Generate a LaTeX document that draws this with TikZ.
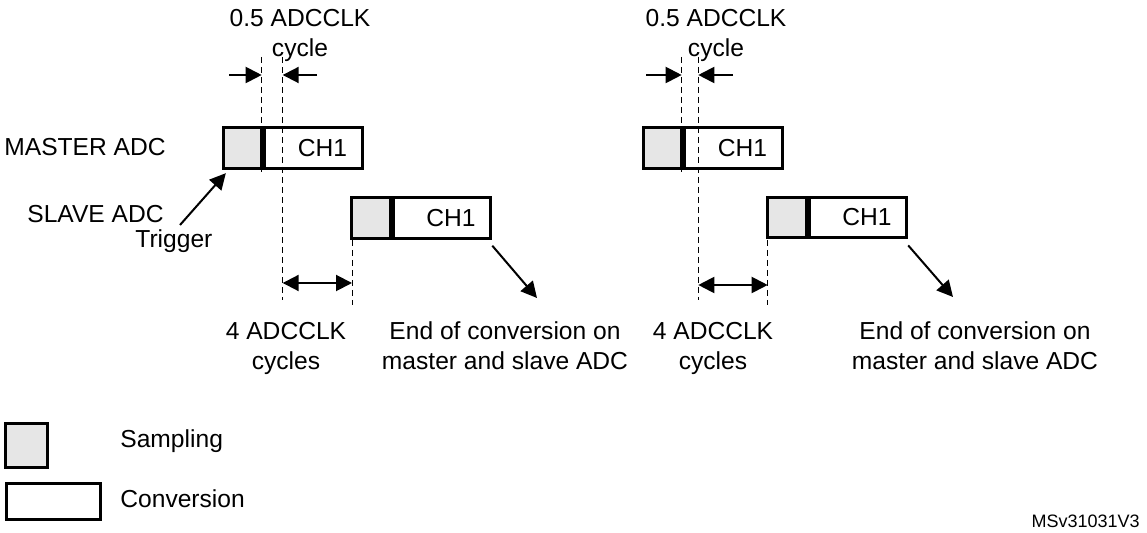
\documentclass[tikz,border=0pt]{standalone}
\usepackage{fontspec}
\setmainfont{Liberation Sans}
\usetikzlibrary{arrows.meta,positioning}
\definecolor{sampgray}{RGB}{230,230,230}

\tikzset{
  sampbox/.style={draw, line width=1.5pt, fill=sampgray, inner sep=0pt, minimum width=19.2pt, minimum height=20.4pt},
  convbox/.style={draw, line width=1.5pt, inner sep=0pt, minimum width=48.8pt, minimum height=20.4pt},
  guide/.style={line width=0.5pt, dash pattern=on 3pt off 2pt},
  sig/.style={line width=1pt, -{Triangle[length=8pt,width=8pt]}},
  span/.style={line width=1pt, {Triangle[length=8pt,width=8pt]}-{Triangle[length=8pt,width=8pt]}},
  txt/.style={font=\fontsize{12.3}{15}\selectfont, inner sep=0pt, align=center},
}

\begin{document}
\begin{tikzpicture}[x=0.5pt,y=-0.5pt]
\useasboundingbox (0,0) rectangle (1147,533);

%labels on the left
\node [txt, anchor=base west] (mlab) at (4,156) {MASTER ADC};
\node [txt, anchor=base west] (slab) at (27,223) {SLAVE ADC};
\node [txt, anchor=base west] (tlab) at (135,248) {Trigger};

%first case: master
\node [sampbox] (ms1) at (242.5,148.3) {};
\node [convbox, right=0pt of ms1, label={[txt,xshift=4.5pt]center:CH1}] (mc1) {};
%first case: slave
\node [sampbox] (ss1) at (371,217.8) {};
\node [convbox, right=0pt of ss1, label={[txt,xshift=4.5pt]center:CH1}] (sc1) {};

%first case: guides
\coordinate (g1t) at (261.7,57);
\coordinate (g1b) at (261.7,172);
\coordinate (g2t) at (282.7,57);
\coordinate (g2b) at (282.7,300);
\coordinate (g3t) at (352,240);
\coordinate (g3b) at (352,305);
\draw [guide] (g1t) -- (g1b);
\draw [guide] (g2t) -- (g2b);
\draw [guide] (g3t) -- (g3b);

%first case: arrows
\coordinate (h1a) at (229,75);
\coordinate (h1b) at (261.7,75);
\coordinate (h1c) at (317,75);
\coordinate (h1d) at (282.7,75);
\draw [sig] (h1a) -- (h1b);
\draw [sig] (h1c) -- (h1d);
\coordinate (w1a) at (282.7,283);
\coordinate (w1b) at (352,283);
\draw [span] (w1a) -- (w1b);
\coordinate (trg) at (180,225);
\draw [sig] (trg) -- ([shift={(2pt,-1.5pt)}]ms1.south west);
\coordinate (eoc1) at (537,298);
\draw [sig] ([yshift=-3pt]sc1.south east) -- (eoc1);

%first case: texts
\node [txt, anchor=base] (half1) at (300,56.7) {0.5 ADCCLK\\cycle};
\node [txt, anchor=base] (four1) at (286,370) {4 ADCCLK\\cycles};
\node [txt, anchor=base] (end1) at (505,370) {End of conversion on\\master and slave ADC};

%second case: master
\node [sampbox] (ms2) at (662.5,148.3) {};
\node [convbox, right=0pt of ms2, label={[txt,xshift=4.5pt]center:CH1}] (mc2) {};
%second case: slave
\node [sampbox] (ss2) at (786.9,217.5) {};
\node [convbox, right=0pt of ss2, label={[txt,xshift=4.5pt]center:CH1}] (sc2) {};

%second case: guides
\coordinate (g4t) at (681.7,57);
\coordinate (g4b) at (681.7,172);
\coordinate (g5t) at (698.3,57);
\coordinate (g5b) at (698.3,300);
\coordinate (g6t) at (767.7,240);
\coordinate (g6b) at (767.7,305);
\draw [guide] (g4t) -- (g4b);
\draw [guide] (g5t) -- (g5b);
\draw [guide] (g6t) -- (g6b);

%second case: arrows
\coordinate (h2a) at (646,75);
\coordinate (h2b) at (681.7,75);
\coordinate (h2c) at (733,75);
\coordinate (h2d) at (698.3,75);
\draw [sig] (h2a) -- (h2b);
\draw [sig] (h2c) -- (h2d);
\coordinate (w2a) at (698.3,285);
\coordinate (w2b) at (767.7,285);
\draw [span] (w2a) -- (w2b);
\coordinate (eoc2) at (953,297);
\draw [sig] ([yshift=-3pt]sc2.south east) -- (eoc2);

%second case: texts
\node [txt, anchor=base] (half2) at (716,56.7) {0.5 ADCCLK\\cycle};
\node [txt, anchor=base] (four2) at (713,370) {4 ADCCLK\\cycles};
\node [txt, anchor=base] (end2) at (975,370) {End of conversion on\\master and slave ADC};

%legend
\node [sampbox, minimum width=21pt, minimum height=22pt] (lsamp) at (26.5,445.3) {};
\node [convbox, minimum width=47pt, minimum height=18pt] (lconv) at (53.5,501.2) {};
\node [txt, anchor=base west] (lsampt) at (120,448) {Sampling};
\node [txt, anchor=base west] (lconvt) at (120,508) {Conversion};

%figure id
\node [font=\fontsize{9}{11}\selectfont, inner sep=0pt, anchor=base east] (figid) at (1140,527.5) {MSv31031V3};
\end{tikzpicture}
\end{document}
